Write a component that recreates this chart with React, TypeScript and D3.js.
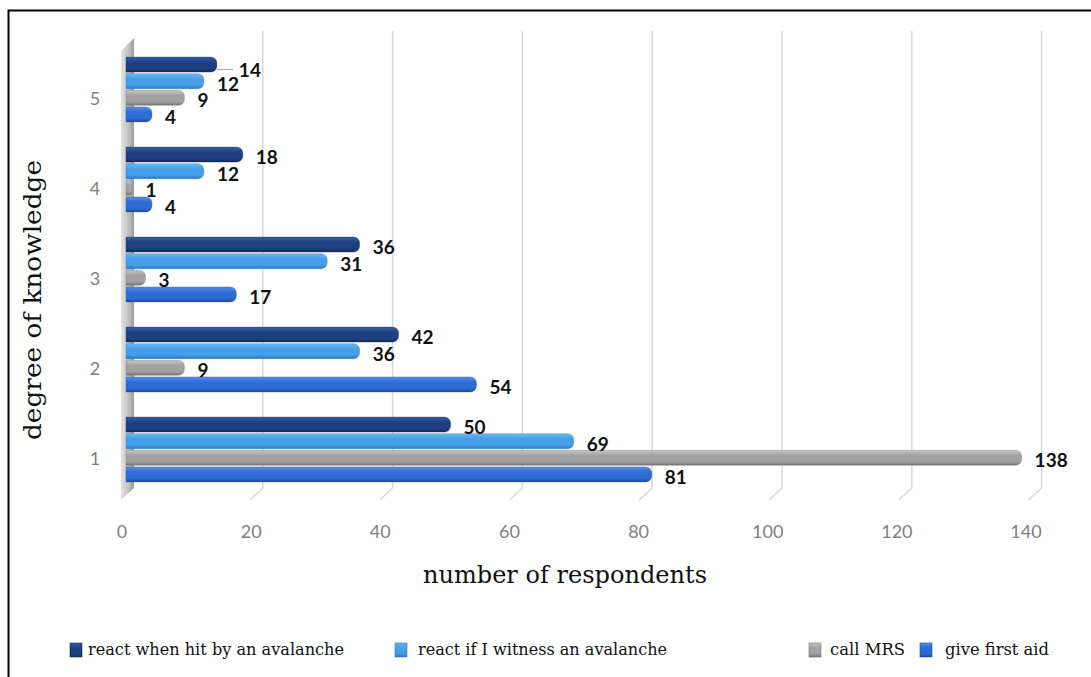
import React from "react";
import * as d3 from "d3";

// Knowledge levels (top to bottom) and the four survey statements
const CATEGORIES = ["5", "4", "3", "2", "1"];
const SERIES = [
  "react when hit by an avalanche",
  "react if I witness an avalanche",
  "call MRS",
  "give first aid",
];

// Respondent counts per knowledge level, ordered as CATEGORIES
const REACT_WHEN_HIT = [14, 18, 36, 42, 50];
const REACT_IF_WITNESS = [12, 12, 31, 36, 69];
const CALL_MRS = [9, 1, 3, 9, 138];
const GIVE_FIRST_AID = [4, 4, 17, 54, 81];

const X_TICKS = [0, 20, 40, 60, 80, 100, 120, 140];

// Per-series shading: highlight, body, shadow
const SHADES = [
  ["#3560a8", "#1f4080", "#132b58"],
  ["#6cb8f2", "#469fe6", "#2d78c0"],
  ["#c6c6c6", "#a2a2a2", "#747474"],
  ["#5590ea", "#2f6bd4", "#1d4ca3"],
];

// Legend layout along the bottom row: marker x, label x, label width
const LEGEND_MARK_X = [70, 395, 809, 920];
const LEGEND_TEXT_X = [88, 418, 830, 945];
const LEGEND_TEXT_W = [256, 249, 75, 104];

const W = 1091;
const H = 677;

function barPath(x0: number, y: number, w: number, h: number) {
  const r = Math.min(6, w / 2);
  const x1 = x0 + w;
  return `M${x0},${y}H${x1 - r}A${r},${r} 0 0 1 ${x1},${y + r}V${y + h - r}A${r},${r} 0 0 1 ${x1 - r},${y + h}H${x0}Z`;
}

export default function App() {
  const values = [REACT_WHEN_HIT, REACT_IF_WITNESS, CALL_MRS, GIVE_FIRST_AID];

  // value axis along the bars (front plane)
  const x = d3.scaleLinear().domain([0, 140]).range([126, 1034.6]);
  // tick labels sit on the floor's front edge
  const xFloor = d3.scaleLinear().domain([0, 140]).range([122, 1026]);
  const y = d3
    .scaleBand<string>()
    .domain(CATEGORIES)
    .range([44.5, 494.5])
    .paddingInner(0.28)
    .paddingOuter(0.14);
  const ySub = d3
    .scaleBand<string>()
    .domain(SERIES)
    .range([0, y.bandwidth()])
    .paddingInner(0.1);

  const gridTop = 31;
  const gridBottom = 488;
  const depth = 13;

  const sans = "Lato, 'Open Sans', sans-serif";
  const serif = "'DejaVu Serif', 'Liberation Serif', serif";

  return (
    <svg
      width={W}
      height={H}
      viewBox={`0 0 ${W} ${H}`}
      style={{ position: "absolute", left: 0, top: 0, background: "#fff" }}
    >
      <defs>
        {SHADES.map((s, i) => (
          <linearGradient key={i} id={`bar${i}`} x1="0" y1="0" x2="0" y2="1">
            <stop offset="0" stopColor={s[0]} />
            <stop offset="0.35" stopColor={s[1]} />
            <stop offset="0.75" stopColor={s[1]} />
            <stop offset="1" stopColor={s[2]} />
          </linearGradient>
        ))}
        <linearGradient id="wall" x1="0" y1="0" x2="1" y2="0">
          <stop offset="0" stopColor="#e4e4e4" />
          <stop offset="0.55" stopColor="#c4c4c4" />
          <stop offset="1" stopColor="#9c9c9c" />
        </linearGradient>
      </defs>

      {/* frame */}
      <rect x={8.5} y={10.5} width={1200} height={800} fill="none" stroke="#000" strokeWidth={2} />

      {/* back-wall gridlines with floor return */}
      {X_TICKS.filter((t) => t > 0).map((t) => (
        <path
          key={t}
          d={`M${x(t) + 7},${gridTop}V${gridBottom}L${x(t) + 7 - depth},${gridBottom + 12}`}
          fill="none"
          stroke="#d9d9d9"
          strokeWidth={1.5}
        />
      ))}

      {/* side wall */}
      <polygon
        points={`121,51 134,38 134,${gridBottom} 121,${gridBottom + 12}`}
        fill="url(#wall)"
      />

      {/* bars */}
      {CATEGORIES.map((c, ci) =>
        SERIES.map((s, si) => {
          const v = values[si][ci];
          const by = (y(c) as number) + (ySub(s) as number);
          const bh = ySub.bandwidth();
          return (
            <path
              key={`${c}-${si}`}
              d={barPath(x(0), by, x(v) - x(0), bh)}
              fill={`url(#bar${si})`}
              stroke={SHADES[si][2]}
              strokeOpacity={0.45}
              strokeWidth={0.8}
            />
          );
        })
      )}

      {/* value labels */}
      {CATEGORIES.map((c, ci) =>
        SERIES.map((s, si) => {
          const v = values[si][ci];
          const by = (y(c) as number) + (ySub(s) as number) + ySub.bandwidth() / 2;
          // the top "14" is pushed clear of its neighbour with a leader line
          const pushed = c === "5" && si === 0;
          const lx = x(v) + (pushed ? 22 : 13);
          const ly = by + (pushed ? 5 : 2);
          return (
            <g key={`l${c}-${si}`}>
              {pushed && (
                <line x1={x(v)} x2={lx - 6} y1={ly} y2={ly} stroke="#a6a6a6" strokeWidth={1} />
              )}
              <text
                x={lx}
                y={ly}
                dominantBaseline="central"
                fontFamily={sans}
                fontWeight={700}
                fontSize={19}
                fill="#111"
              >
                {v}
              </text>
            </g>
          );
        })
      )}

      {/* x tick labels */}
      {X_TICKS.map((t) => (
        <text
          key={`xt${t}`}
          x={xFloor(t)}
          y={531}
          textAnchor="middle"
          dominantBaseline="central"
          fontFamily={sans}
          fontSize={18}
          fill="#7f7f7f"
        >
          {t}
        </text>
      ))}

      {/* y tick labels */}
      {CATEGORIES.map((c) => (
        <text
          key={`yt${c}`}
          x={95}
          y={(y(c) as number) + y.bandwidth() / 2 + 8}
          textAnchor="middle"
          dominantBaseline="central"
          fontFamily={sans}
          fontSize={18}
          fill="#7f7f7f"
        >
          {c}
        </text>
      ))}

      {/* axis titles */}
      <text
        x={423}
        y={583}
        fontFamily={serif}
        fontSize={25}
        textLength={284}
        lengthAdjust="spacingAndGlyphs"
        fill="#111"
      >
        number of respondents
      </text>
      <text
        transform="translate(41,440) rotate(-90)"
        fontFamily={serif}
        fontSize={25}
        textLength={280}
        lengthAdjust="spacingAndGlyphs"
        fill="#111"
      >
        degree of knowledge
      </text>

      {/* legend */}
      {SERIES.map((s, si) => (
        <g key={`lg${si}`}>
          <rect
            x={LEGEND_MARK_X[si]}
            y={643}
            width={12}
            height={14}
            fill={`url(#bar${si})`}
            stroke={SHADES[si][2]}
            strokeWidth={0.6}
          />
          <text
            x={LEGEND_TEXT_X[si]}
            y={655}
            fontFamily={serif}
            fontSize={17}
            textLength={LEGEND_TEXT_W[si]}
            lengthAdjust="spacingAndGlyphs"
            fill="#111"
          >
            {s}
          </text>
        </g>
      ))}
    </svg>
  );
}
